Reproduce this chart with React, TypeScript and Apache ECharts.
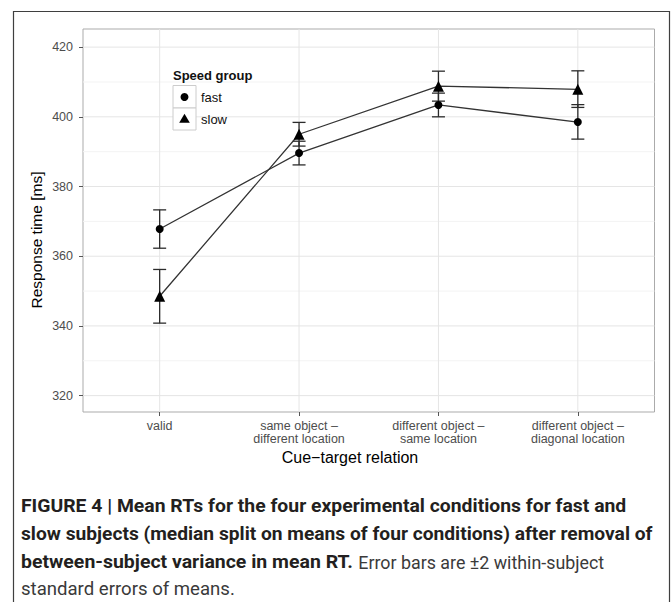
import React, { useEffect, useRef } from "react";
import * as echarts from "echarts";

// ---- data ----
const categories = [
  "valid",
  "same object –\ndifferent location",
  "different object –\nsame location",
  "different object –\ndiagonal location",
];
const categoryIndex = [0, 1, 2, 3];

const fastMean = [367.8, 389.6, 403.4, 398.5];
const fastLow = [362.3, 386.2, 400.0, 393.6];
const fastHigh = [373.3, 393.0, 406.8, 403.5];

const slowMean = [348.5, 395.0, 408.8, 407.9];
const slowLow = [340.8, 391.6, 404.5, 402.7];
const slowHigh = [356.2, 398.4, 413.1, 413.2];

const yTicks = [320, 340, 360, 380, 400, 420];
const yMinorTicks = [330, 350, 370, 390, 410];
const yMin = 315.3;
const yMax = 425.2;
const xMin = -0.55;
const xMax = 3.55;

const seriesNames = ["fast", "slow"];
const legendTitle = "Speed group";
const yTitle = "Response time [ms]";
const xTitle = "Cue−target relation";

const captionLine1 = "FIGURE 4 | Mean RTs for the four experimental conditions for fast and";
const captionLine2 = "slow subjects (median split on means of four conditions) after removal of";
const captionLine3Bold = "between-subject variance in mean RT.";
const captionLine3Reg = "Error bars are ±2 within-subject";
const captionLine4 = "standard errors of means.";

const FONT = "'Liberation Sans', Arial, Helvetica, sans-serif";
const CAP_FAMILY = "Roboto";
const CAP_SIZE = 18.5;

function errorBarRender(params: any, api: any) {
  const x = api.value(0);
  const lo = api.coord([x, api.value(1)]);
  const hi = api.coord([x, api.value(2)]);
  const w = 6.5;
  const style = { stroke: "#2b2b2b", lineWidth: 1.3 };
  return {
    type: "group",
    children: [
      { type: "line", shape: { x1: lo[0], y1: lo[1], x2: hi[0], y2: hi[1] }, style },
      { type: "line", shape: { x1: lo[0] - w, y1: lo[1], x2: lo[0] + w, y2: lo[1] }, style },
      { type: "line", shape: { x1: hi[0] - w, y1: hi[1], x2: hi[0] + w, y2: hi[1] }, style },
    ],
  };
}

function hLineRender(color: string) {
  return (params: any, api: any) => {
    const cs = params.coordSys;
    const y = api.coord([0, api.value(1)])[1];
    return {
      type: "line",
      shape: { x1: cs.x, y1: y, x2: cs.x + cs.width, y2: y },
      style: { stroke: color, lineWidth: 1 },
    };
  };
}

function vLineRender(color: string) {
  return (params: any, api: any) => {
    const cs = params.coordSys;
    const x = api.coord([api.value(0), yMin])[0];
    return {
      type: "line",
      shape: { x1: x, y1: cs.y, x2: x, y2: cs.y + cs.height },
      style: { stroke: color, lineWidth: 1 },
    };
  };
}

export default function App() {
  const ref = useRef<HTMLDivElement>(null);

  useEffect(() => {
    if (!ref.current) return;
    const chart = echarts.init(ref.current, undefined, { renderer: "svg" });

    const canvas = document.createElement("canvas");
    const ctx = canvas.getContext("2d");
    const fit = (text: string, weight: string, target: number) => {
      if (!ctx) return 1;
      ctx.font = `${weight} ${CAP_SIZE}px ${CAP_FAMILY}`;
      const w = ctx.measureText(text).width;
      return w > 0 ? target / w : 1;
    };

    const capText = (
      text: string,
      x: number,
      y: number,
      bold: boolean,
      target: number
    ) => ({
      type: "text",
      z: 100,
      x,
      y,
      scaleX: fit(text, bold ? "bold" : "normal", target),
      style: {
        x: 0,
        y: 0,
        text,
        fontSize: CAP_SIZE,
        fontWeight: bold ? "bold" : "normal",
        fontFamily: CAP_FAMILY,
        fill: bold ? "#231f20" : "#3a3a3a",
        textAlign: "left",
        textVerticalAlign: "middle",
      },
    });

    const option: any = {
      animation: false,
      backgroundColor: "#ffffff",
      grid: {
        left: 83,
        top: 29,
        width: 571.5,
        height: 383,
        show: true,
        borderColor: "#ababab",
        borderWidth: 1,
        backgroundColor: "#ffffff",
      },
      xAxis: {
        type: "value",
        min: xMin,
        max: xMax,
        axisLine: { show: false, onZero: false },
        axisTick: {
          show: true,
          customValues: categoryIndex,
          length: 4,
          lineStyle: { color: "#555555", width: 1 },
        },
        axisLabel: {
          customValues: categoryIndex,
          formatter: (v: number) => categories[Math.round(v)],
          fontSize: 12.5,
          lineHeight: 12.5,
          color: "#4d4d4d",
          fontFamily: FONT,
          margin: 8,
        },
        splitLine: { show: false },
      },
      yAxis: {
        type: "value",
        min: yMin,
        max: yMax,
        axisLine: { show: false, onZero: false },
        axisTick: {
          show: true,
          customValues: yTicks,
          length: 4,
          lineStyle: { color: "#555555", width: 1 },
        },
        axisLabel: {
          customValues: yTicks,
          fontSize: 12.5,
          color: "#4d4d4d",
          fontFamily: FONT,
          margin: 10,
        },
        splitLine: { show: false },
      },
      series: [
        {
          type: "custom",
          name: "minorGrid",
          renderItem: hLineRender("#f3f3f3"),
          data: yMinorTicks.map((v) => [0, v]),
          encode: { x: 0, y: 1 },
          z: 1,
          silent: true,
        },
        {
          type: "custom",
          name: "majorGridY",
          renderItem: hLineRender("#e5e5e5"),
          data: yTicks.map((v) => [0, v]),
          encode: { x: 0, y: 1 },
          z: 1,
          silent: true,
        },
        {
          type: "custom",
          name: "majorGridX",
          renderItem: vLineRender("#e5e5e5"),
          data: categoryIndex.map((i) => [i, yMin]),
          encode: { x: 0, y: 1 },
          z: 1,
          silent: true,
        },
        {
          type: "custom",
          name: "fastErr",
          renderItem: errorBarRender,
          data: categoryIndex.map((i) => [i, fastLow[i], fastHigh[i]]),
          encode: { x: 0, y: [1, 2] },
          z: 3,
          silent: true,
        },
        {
          type: "custom",
          name: "slowErr",
          renderItem: errorBarRender,
          data: categoryIndex.map((i) => [i, slowLow[i], slowHigh[i]]),
          encode: { x: 0, y: [1, 2] },
          z: 3,
          silent: true,
        },
        {
          type: "line",
          name: seriesNames[0],
          data: categoryIndex.map((i) => [i, fastMean[i]]),
          symbol: "circle",
          symbolSize: 8,
          showAllSymbol: true,
          itemStyle: { color: "#000000" },
          lineStyle: { color: "#333333", width: 1.3 },
          z: 4,
        },
        {
          type: "line",
          name: seriesNames[1],
          data: categoryIndex.map((i) => [i, slowMean[i]]),
          symbol: "triangle",
          symbolSize: 11,
          showAllSymbol: true,
          itemStyle: { color: "#000000" },
          lineStyle: { color: "#333333", width: 1.3 },
          z: 4,
        },
      ],
      graphic: [
        {
          type: "rect",
          z: 100,
          silent: true,
          shape: { x: 13.5, y: 11.5, width: 656, height: 640 },
          style: { fill: "none", stroke: "#3f3f3f", lineWidth: 1.2 },
        },
        // legend
        {
          type: "text",
          z: 100,
          style: {
            x: 173,
            y: 75.5,
            text: legendTitle,
            fontSize: 13,
            fontWeight: "bold",
            fontFamily: FONT,
            fill: "#111111",
            textAlign: "left",
            textVerticalAlign: "middle",
          },
        },
        {
          type: "rect",
          z: 100,
          shape: { x: 173, y: 85.5, width: 23, height: 22.5 },
          style: { fill: "#ffffff", stroke: "#cccccc", lineWidth: 1 },
        },
        {
          type: "rect",
          z: 100,
          shape: { x: 173, y: 108, width: 23, height: 22 },
          style: { fill: "#ffffff", stroke: "#cccccc", lineWidth: 1 },
        },
        {
          type: "circle",
          z: 101,
          shape: { cx: 184.5, cy: 97, r: 4 },
          style: { fill: "#000000" },
        },
        {
          type: "polygon",
          z: 101,
          shape: { points: [[184.5, 113.8], [189.8, 122.8], [179.2, 122.8]] },
          style: { fill: "#000000" },
        },
        {
          type: "text",
          z: 101,
          style: {
            x: 201,
            y: 97,
            text: seriesNames[0],
            fontSize: 13,
            fontFamily: FONT,
            fill: "#111111",
            textAlign: "left",
            textVerticalAlign: "middle",
          },
        },
        {
          type: "text",
          z: 101,
          style: {
            x: 201,
            y: 119,
            text: seriesNames[1],
            fontSize: 13,
            fontFamily: FONT,
            fill: "#111111",
            textAlign: "left",
            textVerticalAlign: "middle",
          },
        },
        // axis titles
        {
          type: "text",
          z: 100,
          x: 36,
          y: 240,
          rotation: Math.PI / 2,
          style: {
            x: 0,
            y: 0,
            text: yTitle,
            fontSize: 15.5,
            fontFamily: FONT,
            fill: "#000000",
            textAlign: "center",
            textVerticalAlign: "middle",
          },
        },
        {
          type: "text",
          z: 100,
          style: {
            x: 350,
            y: 457,
            text: xTitle,
            fontSize: 16,
            fontFamily: FONT,
            fill: "#000000",
            textAlign: "center",
            textVerticalAlign: "middle",
          },
        },
        // caption
        capText(captionLine1, 21, 506, true, 606),
        capText(captionLine2, 21, 534, true, 632),
        capText(captionLine3Bold, 21, 562, true, 332),
        capText(captionLine3Reg, 358.3, 562, false, 246),
        capText(captionLine4, 21, 589, false, 214),
      ],
    };

    chart.setOption(option);
    return () => {
      chart.dispose();
    };
  }, []);

  return (
    <div
      ref={ref}
      style={{ position: "fixed", left: 0, top: 0, width: 671, height: 602 }}
    />
  );
}
